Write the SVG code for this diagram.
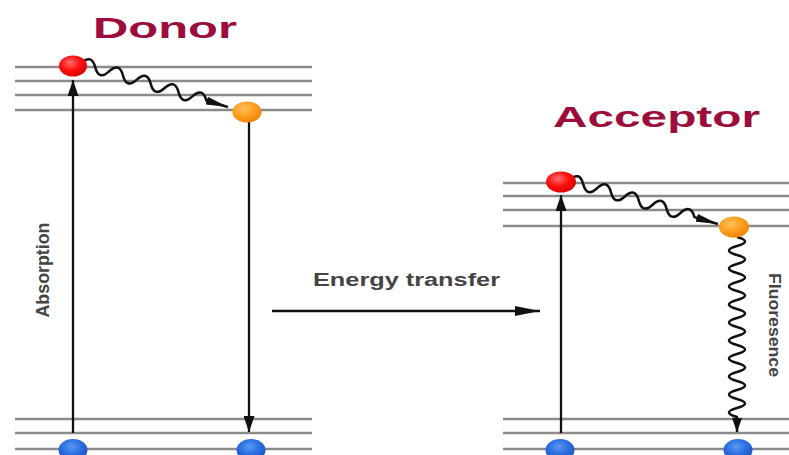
<svg xmlns="http://www.w3.org/2000/svg" width="789" height="455" viewBox="0 0 789 455">
<style>
.lvl{stroke:#8a8a8a;stroke-width:2.6;fill:none}
.arr{stroke:#111;stroke-width:2.3;fill:none}
.wave{stroke:#111;stroke-width:2.5;fill:none;stroke-linejoin:round}
.title{font-family:"Liberation Sans",Arial,sans-serif;font-weight:bold;fill:#9c0d3c}
.lbl{font-family:"Liberation Sans",Arial,sans-serif;font-weight:bold;fill:#444}
</style>
<defs>
<radialGradient id="gRed" cx="0.4" cy="0.35" r="0.7"><stop offset="0" stop-color="#ff7070"/><stop offset="0.5" stop-color="#ff1010"/><stop offset="1" stop-color="#d80000"/></radialGradient>
<radialGradient id="gOr" cx="0.4" cy="0.35" r="0.7"><stop offset="0" stop-color="#ffc060"/><stop offset="0.5" stop-color="#ffa020"/><stop offset="1" stop-color="#f08000"/></radialGradient>
<radialGradient id="gBl" cx="0.45" cy="0.35" r="0.7"><stop offset="0" stop-color="#5a9af5"/><stop offset="0.5" stop-color="#2a6ee0"/><stop offset="1" stop-color="#1550c0"/></radialGradient>
<marker id="mV" markerUnits="userSpaceOnUse" markerWidth="16" markerHeight="11" viewBox="0 0 16 11" refX="16" refY="5.5" orient="auto"><path d="M0,0 L16,5.5 L0,11 z" fill="#111"/></marker>
<marker id="mH" markerUnits="userSpaceOnUse" markerWidth="25" markerHeight="10" viewBox="0 0 25 10" refX="25" refY="5" orient="auto"><path d="M0,0 L25,5 L0,10 z" fill="#111"/></marker>
<marker id="mW" markerUnits="userSpaceOnUse" markerWidth="22" markerHeight="8" viewBox="0 0 22 8" refX="22" refY="4" orient="auto"><path d="M0,0 L22,4 L0,8 z" fill="#111"/></marker>
<marker id="mF" markerUnits="userSpaceOnUse" markerWidth="14" markerHeight="10" viewBox="0 0 14 10" refX="14" refY="5" orient="auto"><path d="M0,0 L14,5 L0,10 z" fill="#111"/></marker>
</defs>
<rect width="789" height="455" fill="#fff"/>

<g id="donor-levels">
<path class="lvl" d="M15,67H312M15,81H312M15,95H312M15,110H312M15,419H312M15,433H312M15,449H312"/>
</g>
<g id="acceptor-levels">
<path class="lvl" d="M503,183H789M503,196H789M503,210H789M503,226H789M503,419H789M503,433H789M503,449H789"/>
</g>

<g id="connectors">
<line class="arr" x1="73" y1="433" x2="73" y2="80" marker-end="url(#mV)"/>
<line class="arr" x1="249" y1="122" x2="249" y2="432" marker-end="url(#mV)"/>
<line class="arr" x1="561" y1="433" x2="561" y2="195" marker-end="url(#mV)"/>
<line class="arr" x1="272" y1="311" x2="540" y2="311" marker-end="url(#mH)"/>
<path class="wave" transform="translate(88,65) rotate(16.7)" marker-end="url(#mW)" d="M-7,0 c4.83,-8 9.67,-8 14.5,0 s9.67,8 14.5,0 s9.67,-8 14.5,0 s9.67,8 14.5,0 s9.67,-8 14.5,0 s9.67,8 14.5,0 s9.67,-8 14.5,0 s9.67,8 14.5,0 s9.67,-8 14.5,0 L146,0"/>
<path class="wave" transform="translate(576,182) rotate(16.5)" marker-end="url(#mW)" d="M-7,0 c4.83,-8 9.67,-8 14.5,0 s9.67,8 14.5,0 s9.67,-8 14.5,0 s9.67,8 14.5,0 s9.67,-8 14.5,0 s9.67,8 14.5,0 s9.67,-8 14.5,0 s9.67,8 14.5,0 s9.67,-8 14.5,0 L148,0"/>
<path class="wave" transform="translate(737,237) rotate(90)" marker-end="url(#mF)" d="M0,0 c3,-10.7 6,-10.7 9,0 s6,10.7 9,0 s6,-10.7 9,0 s6,10.7 9,0 s6,-10.7 9,0 s6,10.7 9,0 s6,-10.7 9,0 s6,10.7 9,0 s6,-10.7 9,0 s6,10.7 9,0 s6,-10.7 9,0 s6,10.7 9,0 s6,-10.7 9,0 s6,10.7 9,0 s6,-10.7 9,0 s6,10.7 9,0 s6,-10.7 9,0 s6,10.7 9,0 s6,-10.7 9,0 s6,10.7 9,0 L195,0"/>
</g>

<g id="donor-excited"><ellipse cx="73" cy="66" rx="14" ry="10.5" fill="url(#gRed)"/></g>
<g id="donor-relaxed"><ellipse cx="247" cy="112" rx="14.5" ry="10.5" fill="url(#gOr)"/></g>
<g id="donor-ground-1"><ellipse cx="73" cy="450" rx="14.5" ry="11" fill="url(#gBl)"/></g>
<g id="donor-ground-2"><ellipse cx="251" cy="450" rx="14.5" ry="11" fill="url(#gBl)"/></g>
<g id="acceptor-excited"><ellipse cx="561" cy="182" rx="15" ry="10.5" fill="url(#gRed)"/></g>
<g id="acceptor-relaxed"><ellipse cx="734" cy="227" rx="15" ry="10.5" fill="url(#gOr)"/></g>
<g id="acceptor-ground-1"><ellipse cx="560" cy="450" rx="14.5" ry="11" fill="url(#gBl)"/></g>
<g id="acceptor-ground-2"><ellipse cx="738" cy="450" rx="14.5" ry="11" fill="url(#gBl)"/></g>

<g id="labels">
<text class="title" x="93" y="38" font-size="29" textLength="144" lengthAdjust="spacingAndGlyphs">Donor</text>
<text class="title" x="553" y="127" font-size="30" textLength="207" lengthAdjust="spacingAndGlyphs">Acceptor</text>
<text class="lbl" x="313" y="286" font-size="18" textLength="187" lengthAdjust="spacingAndGlyphs">Energy transfer</text>
<text class="lbl" transform="translate(49,270) rotate(-90)" x="0" y="0" font-size="17.5" text-anchor="middle" textLength="95" lengthAdjust="spacingAndGlyphs">Absorption</text>
<text class="lbl" transform="translate(769,325) rotate(90)" x="0" y="0" font-size="16.5" text-anchor="middle" textLength="104" lengthAdjust="spacingAndGlyphs">Fluoresence</text>
</g>
</svg>
